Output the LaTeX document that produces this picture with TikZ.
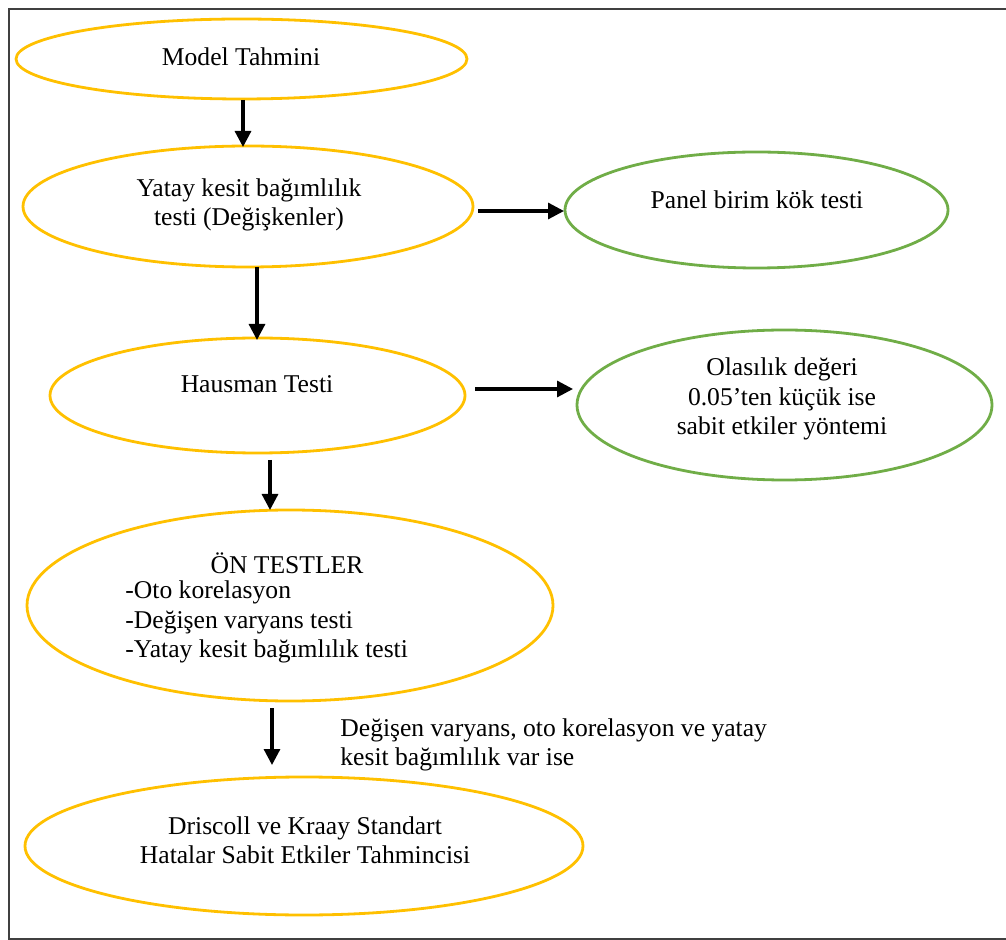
\documentclass[tikz,border=0pt]{standalone}
\usepackage{fontspec}
\setmainfont{Liberation Serif}
\usetikzlibrary{shapes.geometric,arrows.meta}
\definecolor{gold}{HTML}{FFC000}
\definecolor{leaf}{HTML}{70AD47}
\definecolor{frame}{HTML}{404040}
\tikzset{
  oval/.style={ellipse, draw=gold, line width=1.4pt, inner sep=0pt},
  goval/.style={ellipse, draw=leaf, line width=1.4pt, inner sep=0pt},
  txt/.style={inner sep=0pt, align=center, font=\fontsize{12.8}{14.6}\selectfont},
  ltxt/.style={inner sep=0pt, align=left, font=\fontsize{12.8}{14.6}\selectfont},
  arr/.style={line width=1.6pt, -{Triangle[width=8pt,length=8pt]}}
}
\begin{document}
\begin{tikzpicture}[x=0.5pt,y=-0.5pt]
\useasboundingbox (0,0) rectangle (1006,940);
\draw[frame, line width=1pt] (1006,9) -- (9,9) -- (9,938.5) -- (1006,938.5);

\node[oval, minimum width=225.5pt, minimum height=40pt] (e1) at (241.5,59) {};
\node[oval, minimum width=225pt, minimum height=60.5pt] (e2) at (248,206.5) {};
\node[goval, minimum width=191.5pt, minimum height=58pt] (e3) at (756.5,210) {};
\node[oval, minimum width=207.5pt, minimum height=57.5pt] (e4) at (257.5,395.5) {};
\node[goval, minimum width=207.5pt, minimum height=75pt] (e5) at (784.5,405) {};
\node[oval, minimum width=263pt, minimum height=95.5pt] (e6) at (290,605.5) {};
\node[oval, minimum width=279pt, minimum height=69pt] (e7) at (304,846) {};

\node[txt] (t1) at (241,57) {Model Tahmini};
\node[txt] (t2) at (249,205) {Yatay kesit bağımlılık\\testi (Değişkenler)};
\node[txt] (t3) at (757,200) {Panel birim kök testi};
\node[txt] (t4) at (257,384) {Hausman Testi};
\node[txt] (t5) at (782,399) {Olasılık değeri\\0.05’ten küçük ise\\sabit etkiler yöntemi};
\node[txt] (t6) at (287,563) {ÖN TESTLER};
\node[ltxt, anchor=west] (t7) at (125,622) {-Oto korelasyon\\-Değişen varyans testi\\-Yatay kesit bağımlılık testi};
\node[txt] (t8) at (305,840) {Driscoll ve Kraay Standart\\Hatalar Sabit Etkiler Tahmincisi};
\node[ltxt, anchor=west] (t9) at (340,745) {Değişen varyans, oto korelasyon ve yatay\\kesit bağımlılık var ise};

\coordinate (a1s) at (243,100);
\coordinate (a1e) at (243,147);
\coordinate (a2s) at (257,267);
\coordinate (a2e) at (257,340);
\coordinate (a3s) at (270,460);
\coordinate (a3e) at (270,510);
\coordinate (a4s) at (272,708);
\coordinate (a4e) at (272,765);
\coordinate (b1s) at (478,211);
\coordinate (b1e) at (564,211);
\coordinate (b2s) at (475,389);
\coordinate (b2e) at (573,389);
\draw[arr] (a1s) -- (a1e);
\draw[arr] (a2s) -- (a2e);
\draw[arr] (a3s) -- (a3e);
\draw[arr] (a4s) -- (a4e);
\draw[arr] (b1s) -- (b1e);
\draw[arr] (b2s) -- (b2e);
\end{tikzpicture}
\end{document}
